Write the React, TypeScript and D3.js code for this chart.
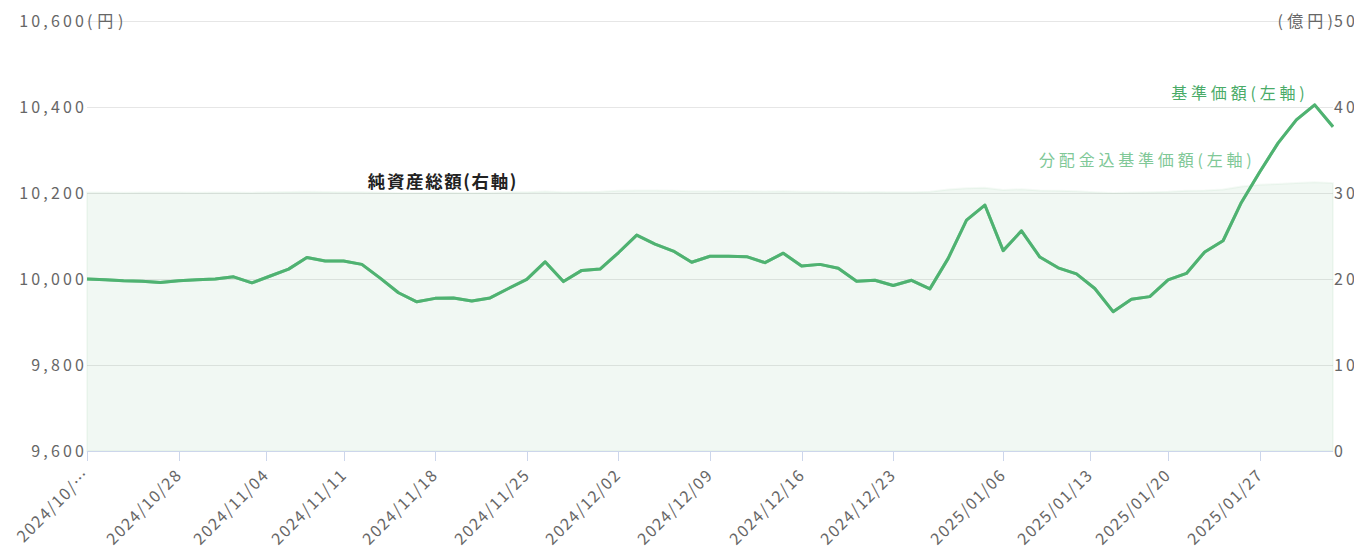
import React from 'react';
import * as d3 from 'd3';

// business days shown on the category axis
const dates = [
  '2024-10-21', '2024-10-22', '2024-10-23', '2024-10-24', '2024-10-25',
  '2024-10-28', '2024-10-29', '2024-10-30', '2024-10-31', '2024-11-01',
  '2024-11-05', '2024-11-06', '2024-11-07', '2024-11-08',
  '2024-11-11', '2024-11-12', '2024-11-13', '2024-11-14', '2024-11-15',
  '2024-11-18', '2024-11-19', '2024-11-20', '2024-11-21', '2024-11-22',
  '2024-11-25', '2024-11-26', '2024-11-27', '2024-11-28', '2024-11-29',
  '2024-12-02', '2024-12-03', '2024-12-04', '2024-12-05', '2024-12-06',
  '2024-12-09', '2024-12-10', '2024-12-11', '2024-12-12', '2024-12-13',
  '2024-12-16', '2024-12-17', '2024-12-18', '2024-12-19', '2024-12-20',
  '2024-12-23', '2024-12-24', '2024-12-25', '2024-12-26', '2024-12-27',
  '2024-12-30',
  '2025-01-06', '2025-01-07', '2025-01-08', '2025-01-09', '2025-01-10',
  '2025-01-14', '2025-01-15', '2025-01-16', '2025-01-17',
  '2025-01-20', '2025-01-21', '2025-01-22', '2025-01-23', '2025-01-24',
  '2025-01-27', '2025-01-28', '2025-01-29', '2025-01-30', '2025-01-31',
];

// 基準価額 (円)
const nav = [
  10000, 9998, 9996, 9995, 9992, 9996, 9998, 10000, 10005, 9991,
  10007, 10023, 10050, 10042, 10042, 10034, 10002, 9968, 9947, 9955,
  9956, 9949, 9956, 9978, 9999, 10040, 9994, 10020, 10023, 10061,
  10102, 10081, 10065, 10039, 10053, 10053, 10052, 10038, 10060, 10030,
  10034, 10025, 9995, 9997, 9985, 9997, 9977, 10048, 10137, 10172,
  10066, 10112, 10051, 10026, 10012, 9978, 9924, 9953, 9959, 9998,
  10013, 10063, 10089, 10178, 10249, 10316, 10370, 10405, 10354,
];

// 分配金込基準価額: no distribution in the period, so it sits on the nav line
const navWithDividends = nav;

// 純資産総額 (億円)
const netAssets = [
  30.05, 30.05, 30.04, 30.05, 30.06, 30.05, 30.04, 30.05, 30.06, 30.04,
  30.08, 30.12, 30.15, 30.12, 30.1, 30.1, 30.05, 30.0, 30.0, 30.02,
  30.02, 30.0, 30.03, 30.08, 30.1, 30.18, 30.1, 30.12, 30.15, 30.25,
  30.3, 30.3, 30.25, 30.2, 30.2, 30.22, 30.2, 30.18, 30.2, 30.15,
  30.15, 30.12, 30.1, 30.12, 30.1, 30.1, 30.15, 30.4, 30.55, 30.6,
  30.35, 30.45, 30.3, 30.25, 30.2, 30.1, 30.0, 30.05, 30.1, 30.15,
  30.25, 30.3, 30.4, 30.75, 30.95, 31.05, 31.15, 31.25, 31.15,
];

const tickDates = [
  '2024-10-21', '2024-10-28', '2024-11-04', '2024-11-11', '2024-11-18',
  '2024-11-25', '2024-12-02', '2024-12-09', '2024-12-16', '2024-12-23',
  '2025-01-06', '2025-01-13', '2025-01-20', '2025-01-27',
];
const tickLabels = [
  '2024/10/…', '2024/10/28', '2024/11/04', '2024/11/11', '2024/11/18',
  '2024/11/25', '2024/12/02', '2024/12/09', '2024/12/16', '2024/12/23',
  '2025/01/06', '2025/01/13', '2025/01/20', '2025/01/27',
];

const leftTicks = [9600, 9800, 10000, 10200, 10400, 10600];
const rightTicks = [0, 10, 20, 30, 40, 50];

const width = 1354;
const height = 554;
const margin = { top: 21, right: 21, bottom: 103, left: 87 };

const font = "'Noto Sans CJK JP', sans-serif";
const gray = '#666666';
const green = '#4fb271';

const parse = d3.timeParse('%Y-%m-%d');
const times = dates.map(d => (parse(d) as Date).getTime());

// position of any date on the ordinal axis (holidays fall between neighbours)
const dateIndex = (d: string) => {
  const t = (parse(d) as Date).getTime();
  const i = times.findIndex(v => v >= t);
  if (i <= 0) return 0;
  if (times[i] === t) return i;
  return i - 1 + (t - times[i - 1]) / (times[i] - times[i - 1]);
};

// letter spacing between characters only (no trailing gap)
const Spaced = ({ s, ls }: { s: string; ls: number }) => (
  <>
    <tspan letterSpacing={ls}>{s.slice(0, -1)}</tspan>
    <tspan>{s.slice(-1)}</tspan>
  </>
);

export default function App() {
  const innerRight = width - margin.right;
  const bottom = height - margin.bottom;

  const x = d3.scaleLinear().domain([0, dates.length - 1]).range([margin.left, innerRight]);
  const yL = d3.scaleLinear().domain([9600, 10600]).range([bottom, margin.top]);
  const yR = d3.scaleLinear().domain([0, 50]).range([bottom, margin.top]);

  const area = d3.area<number>()
    .x((_, i) => x(i))
    .y0(bottom)
    .y1(d => yR(d));

  const line = d3.line<number>()
    .x((_, i) => x(i))
    .y(d => yL(d));

  const fmt = d3.format(',');
  const ls = 3.2;
  const xls = 1.5;

  return (
    <div style={{ position: 'absolute', left: 0, top: 0 }}>
      <svg width={width} height={height} style={{ display: 'block', background: '#fff' }}>
        {/* grid */}
        {leftTicks.map(t => (
          <line key={t} x1={margin.left} x2={innerRight} y1={Math.round(yL(t)) + 0.5} y2={Math.round(yL(t)) + 0.5}
            stroke="#e6e6e6" strokeWidth={1} />
        ))}

        {/* net assets area */}
        <path d={area(netAssets) || ''} fill="rgba(80,172,108,0.08)" stroke="rgba(80,172,108,0.06)" strokeWidth={2} />

        {/* nav lines */}
        <path d={line(navWithDividends) || ''} fill="none" stroke="#8fd0a4" strokeWidth={3} strokeLinejoin="round" />
        <path d={line(nav) || ''} fill="none" stroke={green} strokeWidth={3} strokeLinejoin="round" />

        {/* x axis */}
        <line x1={margin.left} x2={innerRight} y1={bottom + 0.5} y2={bottom + 0.5} stroke="#ccd6eb" />
        {tickDates.map((d, i) => {
          const tx = Math.round(x(dateIndex(d))) + 0.5;
          return (
            <g key={d}>
              <line x1={tx} x2={tx} y1={bottom} y2={bottom + 10} stroke="#ccd6eb" />
              <text transform={`translate(${tx + 2.5},${bottom + 26})rotate(-45)`} textAnchor="end"
                fontFamily={font} fontSize={16} fill={gray}>
                <Spaced s={tickLabels[i]} ls={xls} />
              </text>
            </g>
          );
        })}

        {/* left axis */}
        {leftTicks.map(t => (
          <text key={t} x={margin.left - 3} y={yL(t) + 6} textAnchor="end"
            fontFamily={font} fontSize={16} fill={gray}>
            <Spaced s={fmt(t)} ls={ls} />
          </text>
        ))}
        <text x={margin.left} y={yL(10600) + 6} fontFamily={font} fontSize={16} fill={gray}>
          <Spaced s="(円)" ls={4.8} />
        </text>

        {/* right axis */}
        {rightTicks.map(t => (
          <text key={t} x={innerRight + 1} y={yR(t) + 6}
            fontFamily={font} fontSize={16} fill={gray}>
            <Spaced s={String(t)} ls={ls} />
          </text>
        ))}
        <text x={innerRight} y={yR(50) + 6} textAnchor="end" fontFamily={font} fontSize={16} fill={gray}>
          <Spaced s="(億円)" ls={4.2} />
        </text>

        {/* series labels */}
        <text x={x(dates.length - 2) - 10} y={yL(nav[dates.length - 2]) - 6} textAnchor="end"
          fontFamily={font} fontSize={16} fill="#4aab68">
          <Spaced s="基準価額(左軸)" ls={3.8} />
        </text>
        <text x={x(64) - 8} y={yL(navWithDividends[64]) - 6} textAnchor="end"
          fontFamily={font} fontSize={16} fill="#80c897">
          <Spaced s="分配金込基準価額(左軸)" ls={3.8} />
        </text>
        <text x={x(19) + 7} y={yR(netAssets[19]) - 5} textAnchor="middle"
          fontFamily={font} fontSize={17.5} fontWeight={700} fill="#222">
          <Spaced s="純資産総額(右軸)" ls={1.6} />
        </text>
      </svg>
    </div>
  );
}
